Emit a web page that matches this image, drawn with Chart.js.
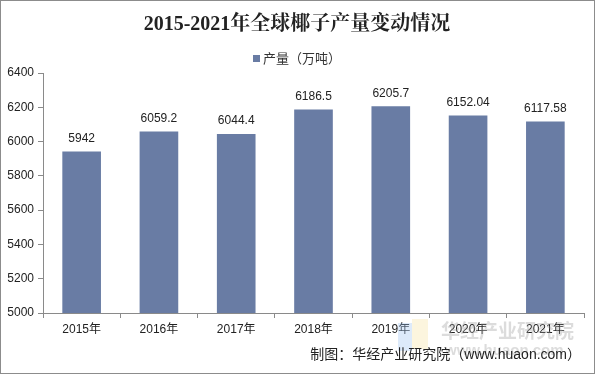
<!DOCTYPE html>
<html>
<head>
<meta charset="utf-8">
<script src="https://cdn.jsdelivr.net/npm/chart.js"></script>
<style>
  html, body { margin: 0; padding: 0; background: #fff; }
  #wrap { position: relative; width: 595px; height: 374px; box-sizing: border-box; border: 1px solid #8c8c8c; }
  canvas { display: block; }
</style>
</head>
<body>
<div id="wrap"><canvas id="chart" width="593" height="372"></canvas></div>
<script>
// chart data
const years = ['2015年', '2016年', '2017年', '2018年', '2019年', '2020年', '2021年'];
const output = [5942, 6059.2, 6044.4, 6186.5, 6205.7, 6152.04, 6117.58];
const yTicks = [5000, 5200, 5400, 5600, 5800, 6000, 6200, 6400];

const TITLE = '2015-2021年全球椰子产量变动情况';
const SERIES = '产量（万吨）';
const SOURCE = '制图：华经产业研究院（www.huaon.com）';
const BAR_COLOR = '#697ca4';
const AXIS_COLOR = '#8a8a8a';
const SANS = 'Arial, "Liberation Sans", "Noto Sans CJK SC", sans-serif';

// title, legend, labels above bars, footer and watermark
const decorPlugin = {
  id: 'decor',
  afterDatasetsDraw(chart) {
    const ctx = chart.ctx;
    ctx.save();
    ctx.fillStyle = '#222';
    ctx.textAlign = 'center';
    ctx.textBaseline = 'middle';
    ctx.font = 'bold 20px "Liberation Serif", "Noto Serif CJK SC", "Noto Sans CJK SC", serif';
    ctx.fillText(TITLE, 296, 24);

    // legend
    ctx.font = '13px ' + SANS;
    const w = ctx.measureText(SERIES).width;
    const lx = 296 - (w + 10) / 2;
    ctx.fillStyle = BAR_COLOR;
    ctx.fillRect(lx, 54, 7, 7);
    ctx.fillStyle = '#333';
    ctx.textAlign = 'left';
    ctx.fillText(SERIES, lx + 10, 58);

    // value labels
    const meta = chart.getDatasetMeta(0);
    ctx.textAlign = 'center';
    ctx.font = '12px ' + SANS;
    ctx.fillStyle = '#222';
    meta.data.forEach((bar, i) => {
      ctx.fillText(String(output[i]), bar.x, bar.y - 13);
    });

    // watermark
    ctx.globalAlpha = 0.35;
    ctx.fillStyle = '#9fc3f0';
    ctx.fillRect(397, 322, 14, 28);
    ctx.fillStyle = '#f6e3a0';
    ctx.fillRect(411, 318, 16, 30);
    ctx.fillStyle = '#9a9a9a';
    ctx.textAlign = 'left';
    ctx.font = 'bold 19px "Noto Sans CJK SC", sans-serif';
    ctx.fillText('华经产业研究院', 440, 330);
    ctx.font = 'bold 15px ' + SANS;
    ctx.fillText('www.huaon.com', 444, 350);
    ctx.globalAlpha = 1;

    // footer
    ctx.fillStyle = '#222';
    ctx.textAlign = 'right';
    ctx.font = '14px ' + SANS;
    ctx.fillText(SOURCE, 580, 354);
    ctx.restore();
  }
};

new Chart(document.getElementById('chart'), {
  type: 'bar',
  data: {
    labels: years,
    datasets: [{
      label: SERIES,
      data: output,
      backgroundColor: BAR_COLOR,
      categoryPercentage: 1,
      barPercentage: 0.5
    }]
  },
  options: {
    responsive: false,
    animation: false,
    events: [],
    layout: { padding: { top: 72, right: 10, bottom: 0, left: 0 } },
    plugins: { legend: { display: false }, title: { display: false }, tooltip: { enabled: false } },
    scales: {
      x: {
        grid: { display: true, drawOnChartArea: false, offset: true, color: AXIS_COLOR, tickLength: 5 },
        border: { color: AXIS_COLOR },
        ticks: { color: '#222', font: { size: 12, family: SANS }, padding: 4 },
        afterFit(scale) { scale.height = 60; }
      },
      y: {
        min: 5000,
        max: 6400,
        afterBuildTicks(scale) { scale.ticks = yTicks.map(v => ({ value: v })); },
        grid: { display: true, drawOnChartArea: false, color: AXIS_COLOR, tickLength: 5 },
        border: { color: AXIS_COLOR },
        ticks: { color: '#222', font: { size: 12, family: SANS }, padding: 4, callback: v => String(v) },
        afterFit(scale) { scale.width = 42; }
      }
    }
  },
  plugins: [decorPlugin]
});
</script>
</body>
</html>
